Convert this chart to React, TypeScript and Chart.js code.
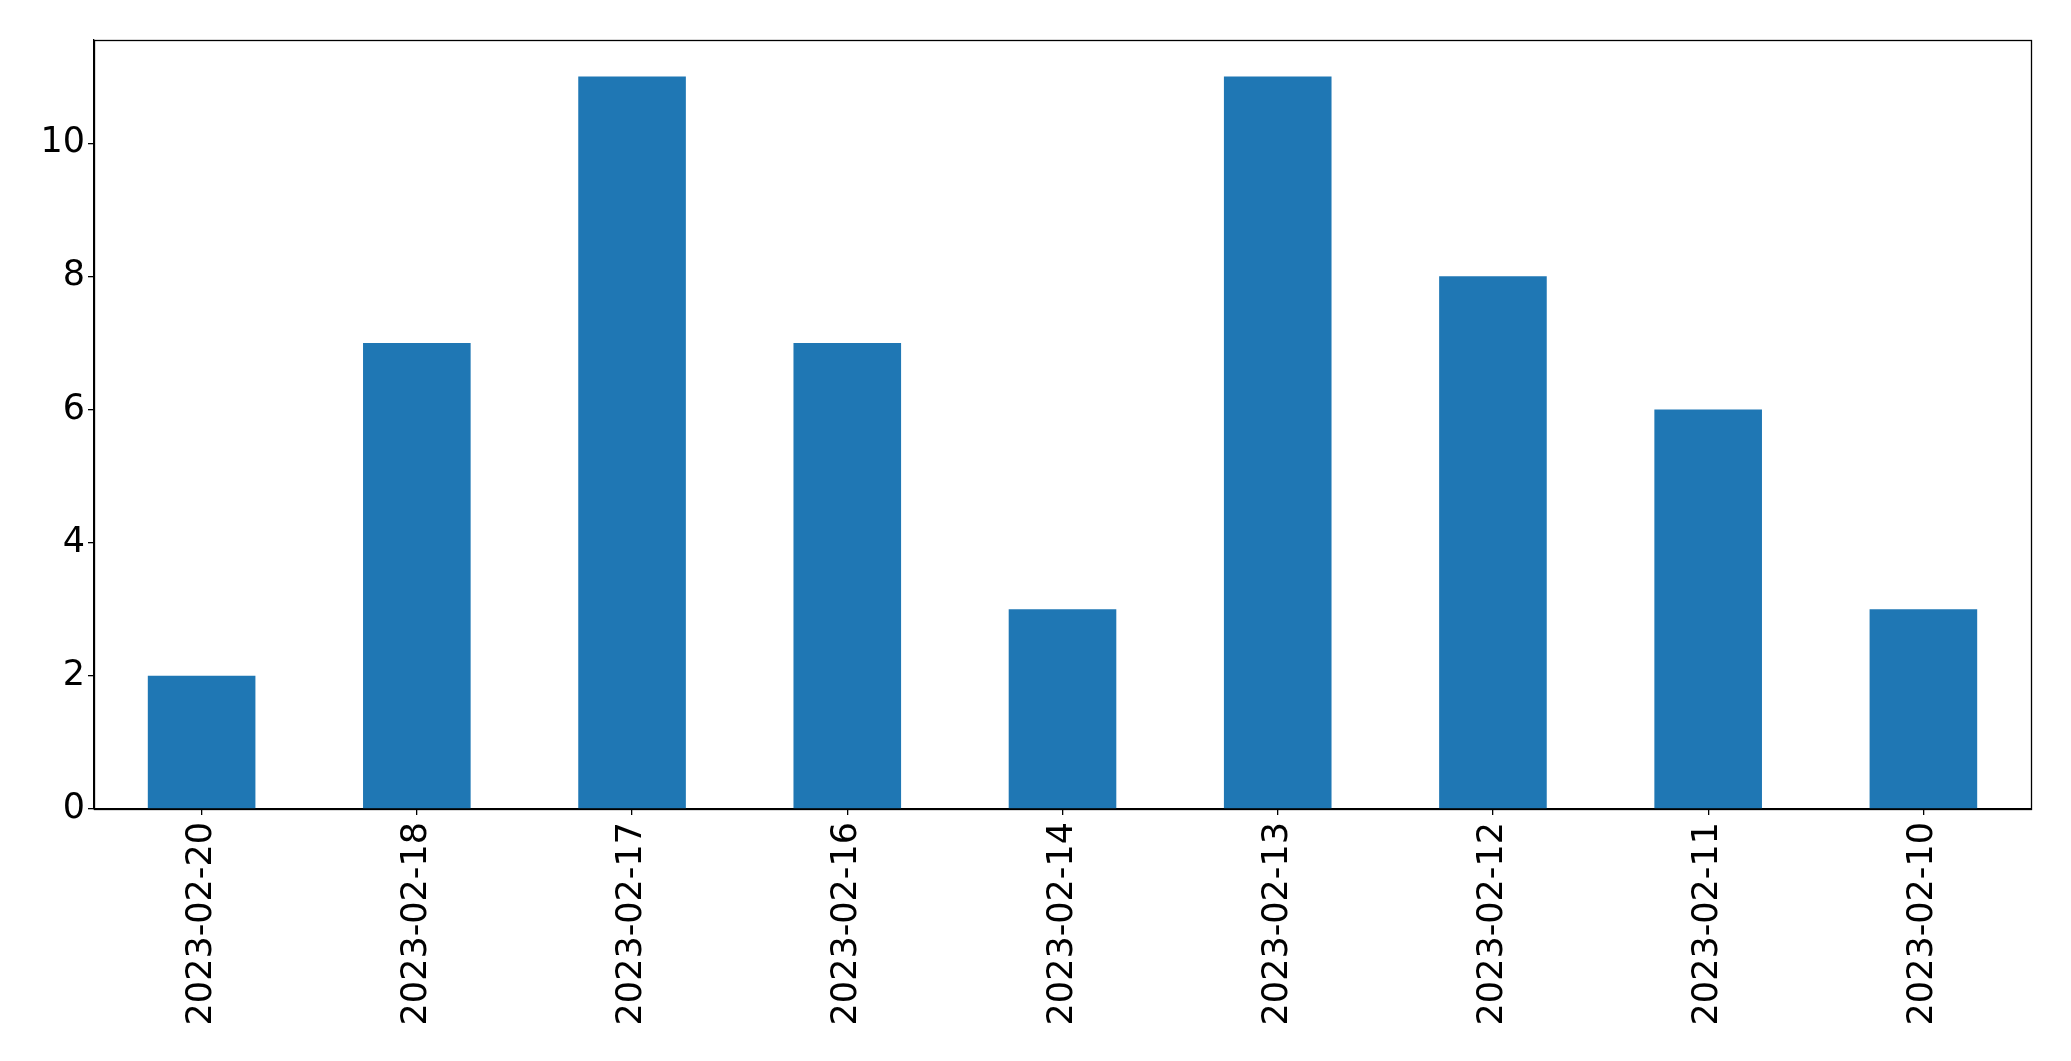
import React, { useEffect, useRef } from "react";
import { Chart, registerables } from "chart.js";

Chart.register(...registerables);

const categories = [
  "2023-02-20",
  "2023-02-18",
  "2023-02-17",
  "2023-02-16",
  "2023-02-14",
  "2023-02-13",
  "2023-02-12",
  "2023-02-11",
  "2023-02-10",
];
const counts = [2, 7, 11, 7, 3, 11, 8, 6, 3];
const yTicks = [0, 2, 4, 6, 8, 10];
const yMax = 11.55;

const W = 2071;
const H = 1061;

const framePlugin = {
  id: "frame",
  afterDatasetsDraw(chart: any) {
    const { ctx, chartArea } = chart;
    ctx.save();
    ctx.strokeStyle = "#000";
    ctx.lineWidth = 1.3;
    ctx.strokeRect(
      Math.round(chartArea.left) + 0.5,
      Math.round(chartArea.top) + 0.5,
      Math.round(chartArea.right - chartArea.left),
      Math.round(chartArea.bottom - chartArea.top)
    );
    ctx.restore();
  },
};

export default function App() {
  const ref = useRef<HTMLCanvasElement | null>(null);
  useEffect(() => {
    if (!ref.current) return;
    const font = { family: "'DejaVu Sans', sans-serif", size: 35 };
    const chart = new Chart(ref.current, {
      type: "bar",
      data: {
        labels: categories,
        datasets: [
          {
            data: counts,
            backgroundColor: "#1f77b4",
            borderWidth: 0,
            categoryPercentage: 0.5,
            barPercentage: 1,
          },
        ],
      },
      options: {
        animation: false,
        responsive: false,
        devicePixelRatio: 1,
        layout: { padding: { left: 0, top: 40, right: 40, bottom: 0 } },
        plugins: {
          legend: { display: false },
          tooltip: { enabled: false },
        },
        scales: {
          x: {
            grid: {
              offset: false,
              drawOnChartArea: false,
              drawTicks: true,
              tickLength: 6,
              color: "#000",
              lineWidth: 1.3,
            },
            border: { display: true, color: "#000", width: 1.3 },
            ticks: {
              minRotation: 90,
              maxRotation: 90,
              autoSkip: false,
              padding: 7,
              color: "#000",
              font,
            },
            afterFit: (s: any) => {
              s.height = 252;
            },
          },
          y: {
            min: 0,
            max: yMax,
            grid: {
              drawOnChartArea: false,
              drawTicks: true,
              tickLength: 6,
              color: "#000",
              lineWidth: 1.3,
            },
            border: { display: true, color: "#000", width: 1.3 },
            ticks: {
              padding: 3,
              color: "#000",
              font,
            },
            afterBuildTicks: (s: any) => {
              s.ticks = yTicks.map((v) => ({ value: v }));
            },
            afterFit: (s: any) => {
              s.width = 94;
            },
          },
        },
      },
      plugins: [framePlugin],
    });
    return () => chart.destroy();
  }, []);
  return (
    <div
      style={{
        position: "fixed",
        left: 0,
        top: 0,
        width: W,
        height: H,
        background: "#fff",
      }}
    >
      <canvas ref={ref} width={W} height={H} style={{ width: W, height: H }} />
    </div>
  );
}
